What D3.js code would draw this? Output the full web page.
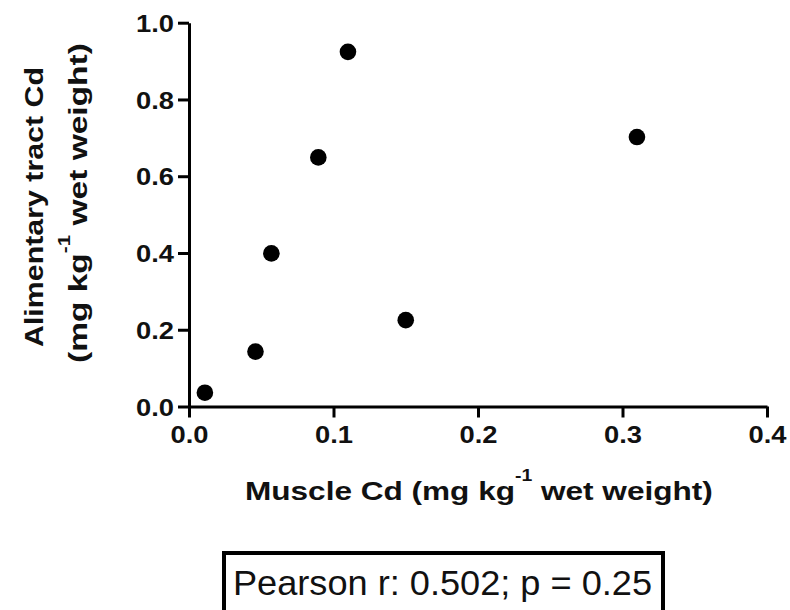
<!DOCTYPE html>
<html>
<head>
<meta charset="utf-8">
<script src="https://cdn.jsdelivr.net/npm/d3@7/dist/d3.min.js"></script>
<style>
  html, body { margin: 0; padding: 0; background: #fff; }
  svg { display: block; font-family: "Liberation Sans", Arial, Helvetica, sans-serif; }
</style>
</head>
<body>
<svg id="chart" width="790" height="610"></svg>
<script>
// Cadmium in muscle vs. alimentary tract (mg kg-1 wet weight)
const muscleCd = [0.011, 0.046, 0.057, 0.0895, 0.110, 0.150, 0.310];
const tractCd  = [0.036, 0.143, 0.399, 0.649, 0.924, 0.225, 0.702];
const xTicks = [0.0, 0.1, 0.2, 0.3, 0.4];
const yTicks = [0.0, 0.2, 0.4, 0.6, 0.8, 1.0];
const statText = "Pearson r: 0.502; p = 0.25";

const svg = d3.select("#chart");

const x = d3.scaleLinear().domain([0, 0.4]).range([189, 767]);
const y = d3.scaleLinear().domain([0, 1]).range([406.5, 22.7]);

// axes
const xAxis = d3.axisBottom(x).tickValues(xTicks).tickFormat(d3.format(".1f"))
  .tickSize(11).tickSizeOuter(0).tickPadding(8);
const yAxis = d3.axisLeft(y).tickValues(yTicks).tickFormat(d3.format(".1f"))
  .tickSize(11).tickSizeOuter(0).tickPadding(4);

function styleAxis(g) {
  g.select(".domain").attr("stroke", "#000").attr("stroke-width", 3);
  g.selectAll(".tick line").attr("stroke", "#000").attr("stroke-width", 3);
  g.selectAll(".tick text")
    .attr("fill", "#111")
    .attr("font-size", 24)
    .attr("font-weight", "bold")
    .attr("textLength", 38)
    .attr("lengthAdjust", "spacingAndGlyphs");
}

svg.append("g")
  .attr("transform", `translate(0,${y(0)})`)
  .call(xAxis)
  .call(styleAxis)
  .call(g => g.selectAll(".tick text").attr("dy", "0.71em"));

svg.append("g")
  .attr("transform", `translate(${x(0)},0)`)
  .call(yAxis)
  .call(styleAxis)
  .call(g => g.selectAll(".tick text").attr("dy", "0.36em"));

// points
const pts = muscleCd.map((v, i) => ({ x: v, y: tractCd[i] }));
svg.append("g").selectAll("circle")
  .data(pts)
  .join("circle")
  .attr("cx", d => x(d.x))
  .attr("cy", d => y(d.y))
  .attr("r", 8.3)
  .attr("fill", "#000");

// x axis title
const xt = svg.append("text")
  .attr("x", 245).attr("y", 500)
  .attr("font-size", 26).attr("font-weight", "bold").attr("fill", "#111");
xt.append("tspan").text("Muscle Cd (mg kg");
xt.append("tspan").attr("dy", -19).attr("font-size", 16).text("-1");
xt.append("tspan").attr("dy", 19).text(" wet weight)");
// stretch to full title width
(function fit(t, w) {
  const cur = t.node().getComputedTextLength();
  const bx = +t.attr("x");
  t.attr("transform", `translate(${bx},0) scale(${w / cur},1) translate(${-bx},0)`);
})(xt, 468);

// y axis title (two rotated lines)
const yTitle = svg.append("g").attr("font-weight", "bold").attr("fill", "#111").attr("font-size", 26);
yTitle.append("text")
  .attr("transform", "translate(43,207) rotate(-90)")
  .attr("text-anchor", "middle")
  .attr("textLength", 280).attr("lengthAdjust", "spacingAndGlyphs")
  .text("Alimentary tract Cd");

const l2 = yTitle.append("text")
  .attr("transform", "translate(87,363) rotate(-90)");
l2.append("tspan").text("(mg kg");
l2.append("tspan").attr("dy", -17).attr("font-size", 16).text("-1");
l2.append("tspan").attr("dy", 17).text(" wet weight)");
(function () {
  const cur = l2.node().getComputedTextLength();
  l2.attr("transform", `translate(87,363) rotate(-90) scale(${320 / cur},1)`);
})();

// statistics box
svg.append("rect")
  .attr("x", 224).attr("y", 553)
  .attr("width", 439).attr("height", 60)
  .attr("fill", "#fff").attr("stroke", "#000").attr("stroke-width", 4);
svg.append("text")
  .attr("x", 233).attr("y", 595)
  .attr("font-size", 35).attr("fill", "#111")
  .attr("textLength", 419).attr("lengthAdjust", "spacingAndGlyphs")
  .text(statText);
</script>
</body>
</html>
